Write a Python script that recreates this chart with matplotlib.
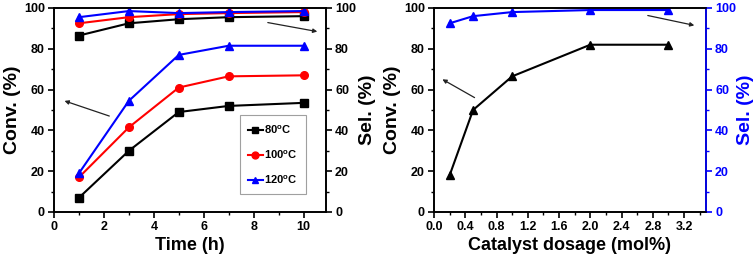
import matplotlib
matplotlib.use("Agg")
import matplotlib.pyplot as plt
from matplotlib.ticker import MultipleLocator

plt.rcParams.update({
    "font.family": ["Liberation Sans", "DejaVu Sans"],
    "font.weight": "bold", "axes.labelweight": "bold",
    "font.size": 9, "axes.linewidth": 1.2,
    "xtick.major.width": 1.2, "ytick.major.width": 1.2,
    "xtick.minor.width": 1.0, "ytick.minor.width": 1.0,
    "xtick.major.size": 4, "ytick.major.size": 4,
    "xtick.minor.size": 2.5, "ytick.minor.size": 2.5,
    "xtick.major.pad": 2.5, "ytick.major.pad": 2.5,
})

# (a) time series at three temperatures
time_h = [1, 3, 5, 7, 10]
temps = ["80$^{\\mathregular{o}}$C", "100$^{\\mathregular{o}}$C", "120$^{\\mathregular{o}}$C"]
conv_t = [[7, 30, 49, 52, 53.5],
          [17, 41.5, 61, 66.5, 67],
          [19, 54.5, 77, 81.5, 81.5]]
sel_t = [[86.5, 92.5, 94.5, 95.5, 96],
         [92.5, 95.5, 97, 97.5, 98],
         [95.5, 98.5, 97.5, 98, 98.5]]
colors = ["black", "red", "blue"]
markers = ["s", "o", "^"]

# (b) catalyst dosage
dosage = [0.2, 0.5, 1.0, 2.0, 3.0]
conv_d = [18, 50, 66.5, 82, 82]
sel_d = [92.5, 96, 98, 99, 99]

fig = plt.figure(figsize=(7.56, 2.6), dpi=100)
ax1 = fig.add_axes([54/756, 1-212/260, 272/756, 204/260])
ax2 = fig.add_axes([434/756, 1-212/260, 272/756, 204/260])

def arrow(ax, tail, head):
    ax.annotate("", xy=head, xytext=tail, xycoords="axes fraction",
                textcoords="axes fraction",
                arrowprops=dict(arrowstyle="-|>", color="#222222", lw=0.9,
                                mutation_scale=6))

# left panel
ax1r = ax1.twinx()
handles = []
for i in range(3):
    h, = ax1.plot(time_h, conv_t[i], color=colors[i], marker=markers[i],
                  ms=5.5, lw=1.5, label=temps[i])
    ax1r.plot(time_h, sel_t[i], color=colors[i], marker=markers[i], ms=5.5, lw=1.5)
    handles.append(h)
ax1.set_xlim(0, 10.9)
ax1.set_ylim(0, 100)
ax1r.set_ylim(0, 100)
ax1.xaxis.set_major_locator(MultipleLocator(2))
ax1.xaxis.set_minor_locator(MultipleLocator(1))
for a in (ax1.yaxis, ax1r.yaxis):
    a.set_major_locator(MultipleLocator(20))
    a.set_minor_locator(MultipleLocator(10))
ax1.set_xlabel("Time (h)", fontsize=13, labelpad=3)
ax1.set_ylabel("Conv. (%)", fontsize=14, labelpad=2)
ax1r.set_ylabel("Sel. (%)", fontsize=14, labelpad=2)
leg = ax1.legend(handles=handles, loc="lower right", bbox_to_anchor=(0.925, 0.09),
                 frameon=True, fancybox=False, edgecolor="#888888",
                 handlelength=1.3, handletextpad=0.15, labelspacing=1.15,
                 borderpad=0.7, borderaxespad=0, fontsize=8, markerscale=0.9)
leg.get_frame().set_linewidth(0.8)
arrow(ax1, (0.213, 0.466), (0.029, 0.549))
arrow(ax1, (0.776, 0.931), (0.978, 0.882))

# right panel
ax2r = ax2.twinx()
ax2.plot(dosage, conv_d, color="black", marker="^", ms=5.5, lw=1.5)
ax2r.plot(dosage, sel_d, color="blue", marker="^", ms=5.5, lw=1.5)
ax2.set_xlim(0.0, 3.48)
ax2.set_ylim(0, 100)
ax2r.set_ylim(0, 100)
ax2.xaxis.set_major_locator(MultipleLocator(0.4))
ax2.xaxis.set_minor_locator(MultipleLocator(0.2))
ax2.xaxis.set_major_formatter(plt.FormatStrFormatter("%.1f"))
for a in (ax2.yaxis, ax2r.yaxis):
    a.set_major_locator(MultipleLocator(20))
    a.set_minor_locator(MultipleLocator(10))
ax2.set_xlabel("Catalyst dosage (mol%)", fontsize=13, labelpad=3)
ax2.set_ylabel("Conv. (%)", fontsize=14, labelpad=2)
ax2r.set_ylabel("Sel. (%)", fontsize=14, labelpad=1, color="blue")
ax2r.spines["right"].set_color("blue")
ax2r.tick_params(axis="y", which="both", colors="blue")
arrow(ax2, (0.158, 0.554), (0.022, 0.657))
arrow(ax2, (0.776, 0.966), (0.967, 0.912))

fig.savefig("out.png", dpi=100)
